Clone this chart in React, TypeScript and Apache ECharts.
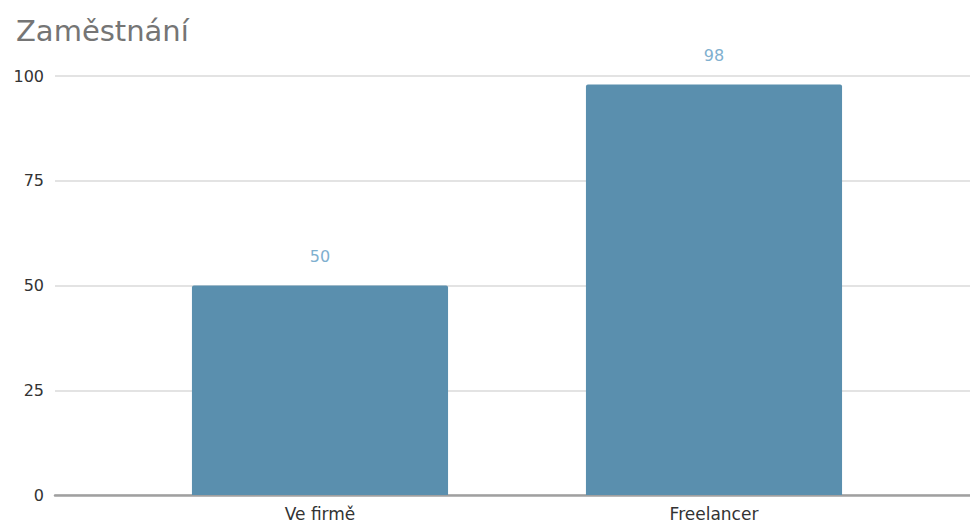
import React, { useEffect, useRef } from "react";
import * as echarts from "echarts";

const title = "Zaměstnání";
const categories = ["Ve firmě", "Freelancer"];
const values = [50, 98];
const yTicks = [0, 25, 50, 75, 100];

const FONT = "DejaVu Sans";

export default function App() {
  const ref = useRef<HTMLDivElement>(null);
  useEffect(() => {
    if (!ref.current) return;
    const chart = echarts.init(ref.current, null, { renderer: "svg" });
    chart.setOption({
      animation: false,
      backgroundColor: "#ffffff",
      title: {
        text: title,
        left: 11,
        top: 11,
        textStyle: { fontFamily: FONT, fontSize: 29, fontWeight: "normal", color: "#757575" },
      },
      grid: [
        { left: 55, right: 0, top: 76, bottom: 29 },
        { left: 123, right: 59, top: 76, bottom: 29 },
      ],
      xAxis: [
        {
          gridIndex: 0,
          type: "category",
          data: [""],
          axisLine: { show: true, lineStyle: { color: "#a0a0a0", width: 2.5 } },
          axisTick: { show: false },
          axisLabel: { show: false },
        },
        {
          gridIndex: 1,
          type: "category",
          data: categories,
          axisLine: { show: false },
          axisTick: { show: false },
          axisLabel: { fontFamily: FONT, fontSize: 17, color: "#333333", margin: 10 },
        },
      ],
      yAxis: [
        {
          gridIndex: 0,
          type: "value",
          min: yTicks[0],
          max: yTicks[yTicks.length - 1],
          interval: 25,
          axisLine: { show: false },
          axisTick: { show: false },
          splitLine: { lineStyle: { color: "#e3e3e3", width: 2 } },
          axisLabel: { fontFamily: FONT, fontSize: 16, color: "#333333", margin: 11 },
        },
        {
          gridIndex: 1,
          type: "value",
          min: yTicks[0],
          max: yTicks[yTicks.length - 1],
          interval: 25,
          show: false,
          splitLine: { show: false },
        },
      ],
      series: [
        {
          type: "bar",
          xAxisIndex: 1,
          yAxisIndex: 1,
          data: values,
          barWidth: "65%",
          itemStyle: { color: "#5a8fae", borderRadius: [2, 2, 0, 0] },
          label: {
            show: true,
            position: "top",
            distance: 21,
            fontFamily: FONT,
            fontSize: 16,
            color: "#7fb0cf",
          },
        },
      ],
    });
    return () => chart.dispose();
  }, []);
  return (
    <div
      ref={ref}
      style={{ position: "fixed", left: 0, top: 0, width: 970, height: 524 }}
    />
  );
}
